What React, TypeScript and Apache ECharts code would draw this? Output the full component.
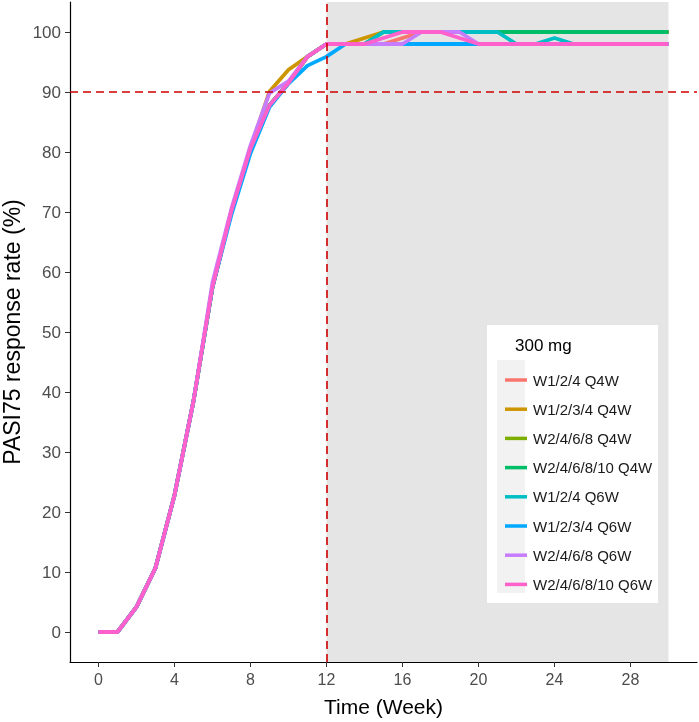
import React, { useEffect, useRef } from "react";
import * as echarts from "echarts";

const weeks = [0, 1, 2, 3, 4, 5, 6, 7, 8, 9, 10, 11, 12, 13, 14, 15, 16, 17, 18, 19, 20, 21, 22, 23, 24, 25, 26, 27, 28, 29, 30];

const seriesNames = [
  "W1/2/4 Q4W",
  "W1/2/3/4 Q4W",
  "W2/4/6/8 Q4W",
  "W2/4/6/8/10 Q4W",
  "W1/2/4 Q6W",
  "W1/2/3/4 Q6W",
  "W2/4/6/8 Q6W",
  "W2/4/6/8/10 Q6W",
];

const seriesColors = ["#F8766D", "#CD9600", "#7CAE00", "#00BE67", "#00BFC4", "#00A9FF", "#C77CFF", "#FF61CC"];

const w124Q4W = [0, 0, 4.2, 10.7, 22.8, 38.5, 57.5, 70.2, 80.6, 87.8, 91.5, 95.9, 98, 98, 98, 98, 99, 100, 100, 100, 100, 100, 100, 100, 100, 100, 100, 100, 100, 100, 100];
const w1234Q4W = [0, 0, 4.2, 10.7, 22.8, 38.5, 57.5, 70.2, 80.6, 90.1, 93.7, 95.9, 98, 98, 99, 100, 100, 100, 100, 100, 100, 100, 100, 100, 100, 100, 100, 100, 100, 100, 100];
const w2468Q4W = [0, 0, 4.2, 10.7, 22.8, 38.5, 57.5, 70.2, 80.6, 87.8, 91.5, 95.9, 98, 98, 98, 100, 100, 100, 100, 100, 100, 100, 100, 100, 100, 100, 100, 100, 100, 100, 100];
const w246810Q4W = [0, 0, 4.2, 10.7, 22.8, 38.5, 57.5, 70.2, 80.6, 87.8, 91.5, 95.9, 98, 98, 98, 100, 100, 100, 100, 100, 100, 100, 100, 100, 100, 100, 100, 100, 100, 100, 100];
const w124Q6W = [0, 0, 4.2, 10.7, 22.8, 38.5, 57.5, 70.2, 80.6, 87.8, 91.5, 95.9, 98, 98, 98, 100, 100, 100, 100, 100, 100, 100, 98, 98, 99, 98, 98, 98, 98, 98, 98];
const w1234Q6W = [0, 0, 4.2, 10.7, 22.8, 38.5, 57.5, 69.6, 79.8, 87.5, 91.4, 94.4, 95.9, 98, 98, 98, 98, 98, 98, 98, 98, 98, 98, 98, 98, 98, 98, 98, 98, 98, 98];
const w2468Q6W = [0, 0, 4.2, 10.7, 22.8, 38.5, 58.3, 70.6, 81.1, 89.8, 91.8, 95.9, 98, 98, 98, 98, 98, 100, 100, 100, 98, 98, 98, 98, 98, 98, 98, 98, 98, 98, 98];
const w246810Q6W = [0, 0, 4.2, 10.7, 22.8, 38.5, 57.5, 70.2, 80.6, 87.8, 91.5, 95.9, 98, 98, 98, 99, 100, 100, 100, 99, 98, 98, 98, 98, 98, 98, 98, 98, 98, 98, 98];

const seriesValues = [w124Q4W, w1234Q4W, w2468Q4W, w246810Q4W, w124Q6W, w1234Q6W, w2468Q6W, w246810Q6W];

const xTicks = [0, 4, 8, 12, 16, 20, 24, 28];
const yTicks = [0, 10, 20, 30, 40, 50, 60, 70, 80, 90, 100];
const refLineY = 90;
const refLineX = 12;
const shadeStart = 12;
const shadeEnd = 30;
const legendTitle = "300 mg";
const xTitle = "Time (Week)";
const yTitle = "PASI75 response rate (%)";

const FONT = "'Liberation Sans', Arial, Helvetica, sans-serif";

export default function App() {
  const ref = useRef<HTMLDivElement>(null);

  useEffect(() => {
    if (!ref.current) return;
    const chart = echarts.init(ref.current, undefined, { renderer: "svg" });

    const lineSeries = seriesNames.map((name, i) => ({
      name,
      type: "line",
      z: 2,
      data: weeks.map((w, j) => [w, seriesValues[i][j]]),
      showSymbol: false,
      symbol: "none",
      lineStyle: { color: seriesColors[i], width: 3.8 },
      itemStyle: { color: seriesColors[i] },
      emphasis: { disabled: true },
    }));

    const option = {
      animation: false,
      grid: { left: 70, right: 2, top: 2, bottom: 60, containLabel: false, outerBoundsMode: "none" },
      xAxis: {
        type: "value",
        min: -1.5,
        max: 31.5,
        name: xTitle,
        nameLocation: "middle",
        nameGap: 34,
        nameTextStyle: { fontFamily: FONT, fontSize: 21, color: "#000" },
        axisLine: { show: true, onZero: false, lineStyle: { color: "#000", width: 1.2 } },
        axisTick: { show: true, length: 5, customValues: xTicks, lineStyle: { color: "#333" } },
        axisLabel: { customValues: xTicks, margin: 9, fontFamily: FONT, fontSize: 16, color: "#4d4d4d" },
        splitLine: { show: false },
      },
      yAxis: {
        type: "value",
        min: -5,
        max: 105,
        name: yTitle,
        nameLocation: "middle",
        nameGap: 47,
        nameMoveOverlap: false,
        nameTextStyle: { fontFamily: FONT, fontSize: 23, color: "#000" },
        axisLine: { show: true, onZero: false, lineStyle: { color: "#000", width: 1.2 } },
        axisTick: { show: true, length: 5, customValues: yTicks, lineStyle: { color: "#333" } },
        axisLabel: { customValues: yTicks, margin: 9, fontFamily: FONT, fontSize: 17, color: "#4d4d4d" },
        splitLine: { show: false },
      },
      legend: {
        orient: "vertical",
        left: 500,
        top: 366,
        z: 10,
        itemWidth: 22,
        itemHeight: 3.5,
        itemGap: 11.2,
        icon: "rect",
        selectedMode: false,
        data: seriesNames,
        textStyle: { fontFamily: FONT, fontSize: 15, color: "#1a1a1a", lineHeight: 18, padding: [0, 0, 0, 1] },
      },
      graphic: [
        { type: "rect", z: 8, shape: { x: 487, y: 325, width: 171, height: 278 }, style: { fill: "#ffffff" } },
        { type: "rect", z: 9, shape: { x: 497, y: 360, width: 28, height: 233 }, style: { fill: "#f2f2f2" } },
        {
          type: "text",
          z: 9,
          x: 515,
          y: 345,
          style: { text: legendTitle, fontFamily: FONT, fontSize: 17, fill: "#000", verticalAlign: "middle", align: "left" },
        },
      ],
      series: [
        {
          name: "shade",
          type: "line",
          z: 0,
          data: [],
          markArea: {
            silent: true,
            itemStyle: { color: "#e5e5e5", opacity: 1 },
            data: [[{ xAxis: shadeStart, yAxis: -5 }, { xAxis: shadeEnd, yAxis: 105 }]],
          },
        },
        {
          name: "refs",
          type: "line",
          z: 1,
          data: [],
          markLine: {
            silent: true,
            symbol: ["none", "none"],
            label: { show: false },
            lineStyle: { color: "#CD0000", type: [8, 5], width: 1.6 },
            data: [{ yAxis: refLineY }, { xAxis: refLineX }],
          },
        },
        ...lineSeries,
      ],
    };

    chart.setOption(option as any);
    return () => chart.dispose();
  }, []);

  return <div ref={ref} style={{ position: "fixed", left: 0, top: 0, width: 699, height: 722 }} />;
}
